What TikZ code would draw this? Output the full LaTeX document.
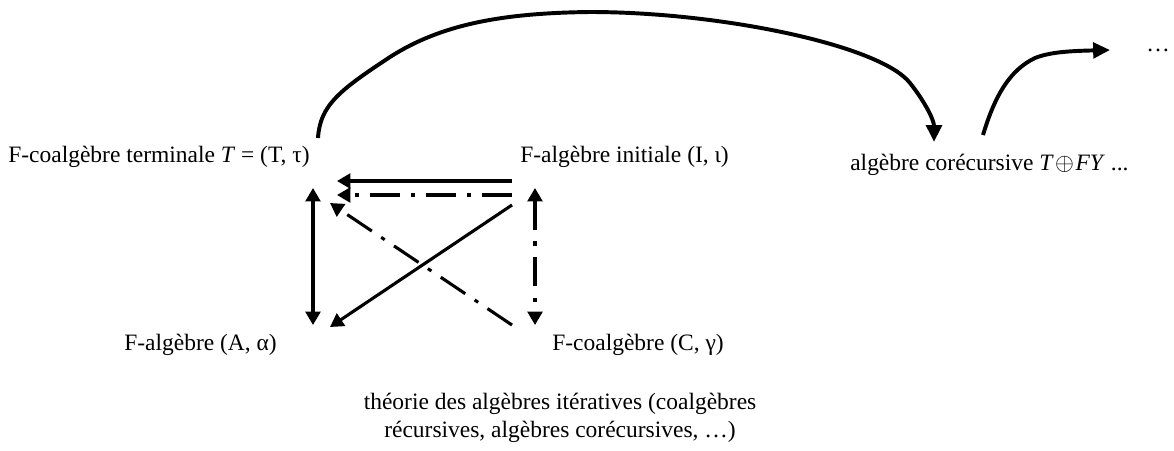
\documentclass[tikz,border=0pt]{standalone}
\usepackage{fontspec}
\setmainfont{Liberation Serif}
\usetikzlibrary{arrows.meta,positioning}
\tikzset{
  texte/.style={
    font=\fontsize{16.7}{19.5}\selectfont,
    inner sep=0pt
  },
  fleche/.style={
    -{Triangle[length=9.5pt,width=10.5pt]},
    line width=2.2pt
  },
  doublefleche/.style={
    {Triangle[length=9.5pt,width=10.5pt]}-{Triangle[length=9.5pt,width=10.5pt]},
    line width=2.2pt
  },
  tiret/.style={
    dash pattern=on 21pt off 8pt on 3pt off 8pt
  },
  courbe/.style={
    -{Triangle[length=12pt,width=11pt]},
    line width=2.8pt
  }
}

\begin{document}
\begin{tikzpicture}[x=0.025cm,y=-0.025cm]
\useasboundingbox (0,0) rectangle (1174,450);
% les objets
\node[texte,anchor=west] (terminale) at (8,157) {F-coalgèbre terminale \textit{T} = (T, τ)};
\node[texte,anchor=west] (initiale) at (520,157) {F-algèbre initiale (I, ι)};
\node[texte,anchor=west] (corec) at (850,165) {algèbre corécursive \textit{T}\kern1pt$\oplus$\kern1pt\textit{FY} ...};
\node[texte,anchor=west] (algA) at (124,345) {F-algèbre (A, α)};
\node[texte,anchor=west] (coalgC) at (552,345) {F-coalgèbre (C, γ)};
\node[texte,align=center] (theorie) at (560,418) {théorie des algèbres itératives (coalgèbres\\récursives, algèbres corécursives, …)};
\node[texte] (suite) at (1158,50) {…};
% bouts des fleches
\coordinate (hg) at (313,188);
\coordinate (bg) at (313,325);
\coordinate (hd) at (535,188);
\coordinate (bd) at (535,325);
\coordinate (i1) at (512,181);
\coordinate (t1) at (337,181);
\coordinate (i2) at (512,195);
\coordinate (t2) at (337,195);
\coordinate (i3) at (512,205);
\coordinate (a3) at (330,327);
\coordinate (c4) at (512,325);
\coordinate (t4) at (330,203);
\coordinate (d1) at (318,138);
\coordinate (sommet) at (590,12);
\coordinate (f1) at (934,142);
\coordinate (d2) at (983,135);
\coordinate (f2) at (1110,50);
% le carre
\draw[fleche] (i1) -- (t1);
\draw[fleche,tiret] (i2) -- (t2);
\draw[doublefleche] (hg) -- (bg);
\draw[doublefleche,tiret] (hd) -- (bd);
\draw[fleche] (i3) -- (a3);
\draw[fleche,tiret] (c4) -- (t4);
% les courbes
\draw[courbe] (d1) .. controls (320,105) and (340,90) .. (390,57)
  .. controls (440,25) and (500,13) .. (sommet)
  .. controls (720,12) and (880,45) .. (910,83)
  .. controls (925,102) and (934,120) .. (f1);
\draw[courbe] (d2) .. controls (995,95) and (1010,70) .. (1035,58)
  .. controls (1050,52) and (1070,51) .. (f2);
\end{tikzpicture}
\end{document}
